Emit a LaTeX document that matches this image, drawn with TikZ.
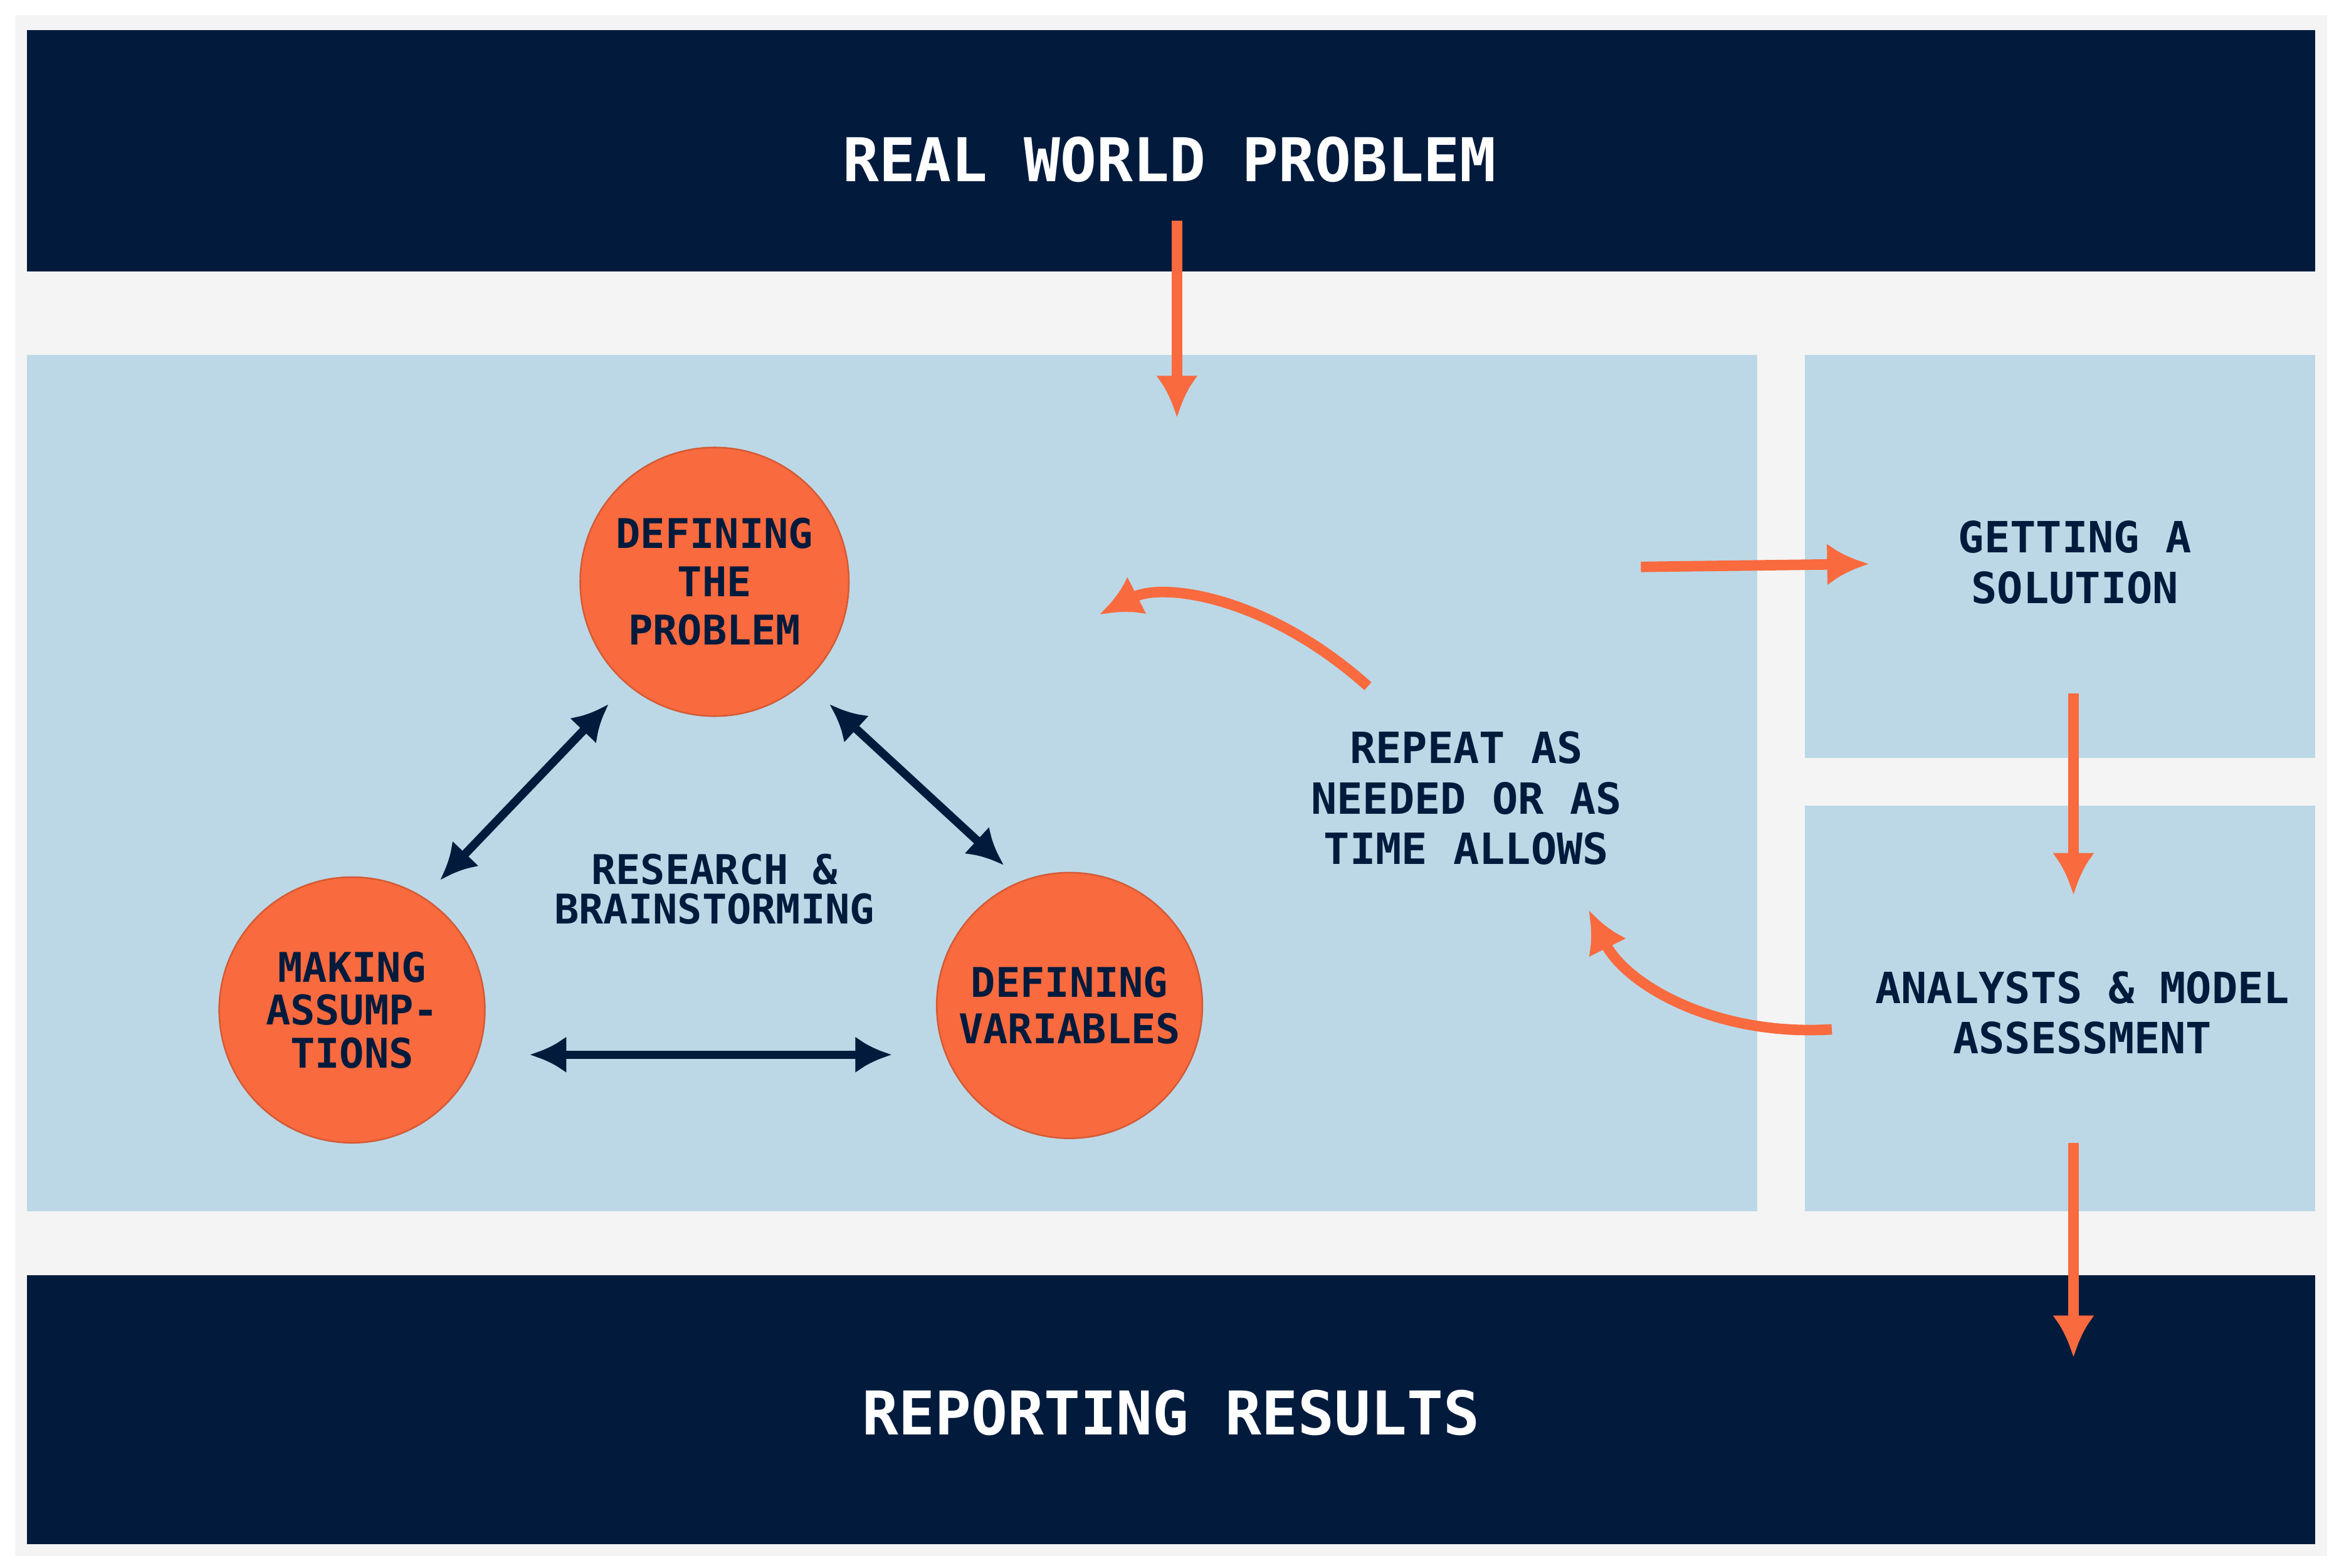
\documentclass[tikz,border=0pt]{standalone}
\usepackage{fontspec}
\setmainfont{DejaVu Sans Mono}
\usetikzlibrary{arrows.meta}
\definecolor{navy}{HTML}{021B3D}
\definecolor{lblue}{HTML}{BCD8E6}
\definecolor{org}{HTML}{F96A3E}
\definecolor{bg}{HTML}{F4F4F4}
\begin{document}
\begin{tikzpicture}[x=0.01cm,y=-0.01cm,
  lbl/.style={text=navy,font=\bfseries\fontsize{7.8}{9.4}\selectfont,align=center},
  ttl/.style={text=white,font=\bfseries\fontsize{11.5}{13}\selectfont},
  circ/.style={circle,fill=org,draw=org!85!black,line width=0.3pt,minimum size=#1,inner sep=0pt,lbl},
  nav/.style={navy,line width=1.6pt,{Latex[length=7pt,width=7pt]}-{Latex[length=7pt,width=7pt]}},
  oarr/.style={org,line width=2pt,-{Latex[length=8pt,width=8pt,open,fill=org]}}]
\useasboundingbox (0,0) rectangle (1568,1051);
\fill[white] (0,0) rectangle (1568,1051);
\fill[bg] (10,10) rectangle (1560,1043);
\fill[navy] (18,20) rectangle (1552,182);
\fill[navy] (18,855) rectangle (1552,1035);
\fill[lblue] (18,238) rectangle (1178,812);
\fill[lblue] (1210,238) rectangle (1552,508);
\fill[lblue] (1210,540) rectangle (1552,812);
\node[ttl] (rw) at (784,107) {REAL WORLD PROBLEM};
\node[ttl] (rr) at (785,947) {REPORTING RESULTS};
\node[circ=1.8cm,font=\bfseries\fontsize{7.8}{9.2}\selectfont] (dp) at (479,390) {DEFINING\\THE\\PROBLEM};
\node[circ=1.78cm,font=\bfseries\fontsize{7.8}{8.2}\selectfont] (ma) at (236,677) {MAKING\\ASSUMP-\\TIONS};
\node[circ=1.78cm,font=\bfseries\fontsize{7.8}{8.8}\selectfont] (dv) at (717,674) {DEFINING\\VARIABLES};
\node[lbl,font=\bfseries\fontsize{7.8}{7.6}\selectfont] (rb) at (479,596) {RESEARCH \&\\BRAINSTORMING};
\node[lbl,font=\bfseries\fontsize{8.2}{9.6}\selectfont] (rp) at (983,535) {REPEAT AS\\NEEDED OR AS\\TIME ALLOWS};
\node[lbl,font=\bfseries\fontsize{8.2}{9.6}\selectfont] (gs) at (1391,377) {GETTING A\\SOLUTION};
\node[lbl,font=\bfseries\fontsize{8.2}{9.6}\selectfont] (am) at (1396,679) {ANALYSTS \& MODEL\\ASSESSMENT};
\coordinate (a1) at (408,472); \coordinate (a2) at (295,590);
\coordinate (b1) at (556,472); \coordinate (b2) at (673,580);
\coordinate (c1) at (355,707); \coordinate (c2) at (598,707);
\draw[nav] (a1) -- (a2);
\draw[nav] (b1) -- (b2);
\draw[nav] (c1) -- (c2);
\coordinate (o1) at (789,148); \coordinate (o2) at (789,280);
\coordinate (p1) at (1100,380); \coordinate (p2) at (1253,378);
\coordinate (q1) at (1390,465); \coordinate (q2) at (1390,600);
\coordinate (r1) at (1390,766); \coordinate (r2) at (1390,910);
\coordinate (s1) at (917,460); \coordinate (s2) at (737,412);
\coordinate (t1) at (1228,690); \coordinate (t2) at (1065,610);
\draw[oarr] (o1) -- (o2);
\draw[oarr] (p1) -- (p2);
\draw[oarr] (q1) -- (q2);
\draw[oarr] (r1) -- (r2);
\draw[oarr] (s1) .. controls (850,400) and (780,390) .. (s2);
\draw[oarr] (t1) .. controls (1150,695) and (1090,660) .. (t2);
\end{tikzpicture}
\end{document}
